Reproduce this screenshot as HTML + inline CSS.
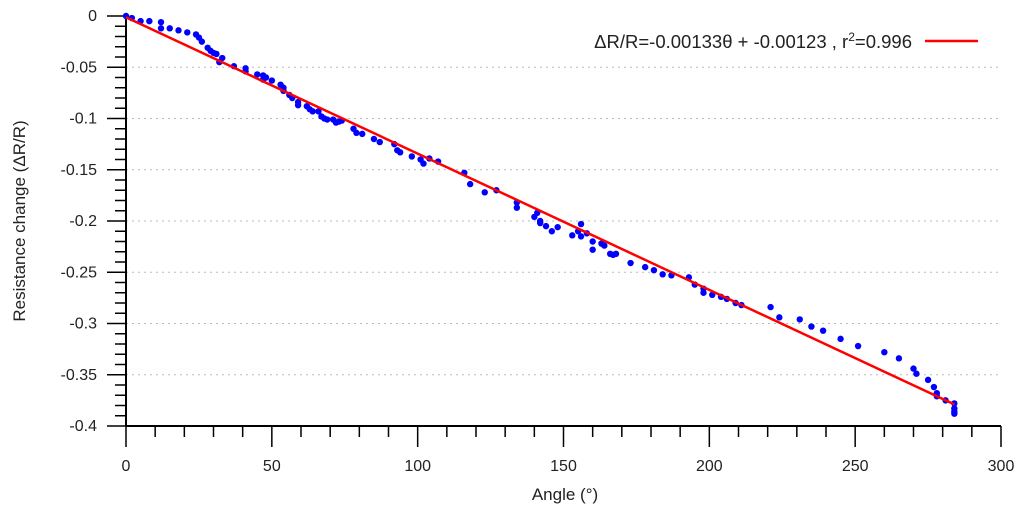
<!DOCTYPE html>
<html><head><meta charset="utf-8"><style>
body{margin:0;background:#fff}
svg{display:block;font-family:"Liberation Sans",sans-serif}
</style></head><body>
<svg id="chart" width="1024" height="512">
<g id="grid"></g>
<g id="axes"></g>
<g id="marks"></g>
<text x="565" y="500" font-size="17" text-anchor="middle" fill="#222">Angle (°)</text>
<text transform="translate(25,221) rotate(-90)" font-size="17" text-anchor="middle" fill="#222">Resistance change (ΔR/R)</text>
<g>
<text x="912" y="48" font-size="18.5" text-anchor="end" fill="#222">ΔR/R=-0.00133θ + -0.00123 , r<tspan dy="-7" font-size="12">2</tspan><tspan dy="7">=0.996</tspan></text>
<line x1="925" y1="41" x2="978" y2="41" stroke="#f00" stroke-width="2.5"/>
</g>
</svg>
<script>
const angles=[0,2,5,8,12,12,15,18,21,24,25,26,28,29,30,31,33,32,37,41,41,45,47,47,48,50,53,54,54,56,57,59,59,62,63,64,66,67,68,69,71,72,73,74,78,79,81,85,87,92,93,94,98,101,102,104,107,116,118,123,127,134,134,140,141,142,142,144,146,148,153,155,156,156,158,160,160,163,164,166,167,168,173,178,181,184,187,193,195,198,198,201,204,206,209,211,221,224,231,235,239,245,251,260,265,270,271,275,277,278,278,281,284,284,284,284];
const changes=[0,-0.002,-0.005,-0.005,-0.006,-0.012,-0.012,-0.014,-0.016,-0.018,-0.021,-0.025,-0.031,-0.034,-0.036,-0.037,-0.041,-0.045,-0.049,-0.051,-0.054,-0.057,-0.058,-0.062,-0.060,-0.063,-0.067,-0.070,-0.073,-0.077,-0.080,-0.084,-0.087,-0.088,-0.091,-0.093,-0.093,-0.098,-0.100,-0.101,-0.101,-0.104,-0.103,-0.102,-0.110,-0.114,-0.115,-0.120,-0.123,-0.125,-0.131,-0.133,-0.137,-0.140,-0.144,-0.139,-0.142,-0.153,-0.164,-0.172,-0.170,-0.182,-0.187,-0.196,-0.192,-0.200,-0.202,-0.205,-0.210,-0.206,-0.214,-0.210,-0.215,-0.203,-0.212,-0.220,-0.228,-0.222,-0.224,-0.232,-0.233,-0.232,-0.241,-0.245,-0.248,-0.252,-0.253,-0.255,-0.262,-0.266,-0.270,-0.272,-0.274,-0.276,-0.280,-0.282,-0.284,-0.294,-0.296,-0.303,-0.307,-0.315,-0.322,-0.328,-0.334,-0.344,-0.349,-0.355,-0.362,-0.368,-0.371,-0.375,-0.378,-0.383,-0.386,-0.388];
const fitSlope=-0.00133, fitIntercept=-0.00123, fitStart=0, fitEnd=284;
const xTicks=[0,50,100,150,200,250,300];
const yTicks=[0,-0.05,-0.1,-0.15,-0.2,-0.25,-0.3,-0.35,-0.4];
const yTickLabels=["0","-0.05","-0.1","-0.15","-0.2","-0.25","-0.3","-0.35","-0.4"];

const NS="http://www.w3.org/2000/svg";
const X0=126,X1=1001,Y0=16,Y1=426;
const sx=v=>X0+(v-0)/300*(X1-X0);
const sy=v=>Y0+(0-v)/0.4*(Y1-Y0);
function mk(tag,attrs,parent){const e=document.createElementNS(NS,tag);for(const k in attrs)e.setAttribute(k,attrs[k]);parent.appendChild(e);return e;}
const grid=document.getElementById('grid'),axes=document.getElementById('axes'),marks=document.getElementById('marks');

yTicks.forEach((v,i)=>{
  if(i>0&&i<yTicks.length-1){const g=mk('line',{x1:X0,x2:X1,y1:sy(v),y2:sy(v),stroke:'#bbb','stroke-dasharray':'2,4'},grid);
  
  }
  const t=mk('text',{x:97,y:sy(v)+5,'font-size':16,'text-anchor':'end',fill:'#222'},axes);
  t.textContent=yTickLabels[i];
  
  
});
for(let k=0;k<=40;k++){const v=-k*0.01;const major=k%5===0;
  mk('line',{x1:major?107:115,x2:X0,y1:sy(v),y2:sy(v),stroke:'#000','stroke-width':1.5},axes);}
for(let k=0;k<=30;k++){const v=k*10;const major=k%5===0;
  mk('line',{x1:sx(v),x2:sx(v),y1:Y1,y2:major?Y1+21:Y1+11,stroke:'#000','stroke-width':1.5},axes);}
xTicks.forEach(v=>{const t=mk('text',{x:sx(v),y:471,'font-size':16,'text-anchor':'middle',fill:'#222'},axes);
  t.textContent=String(v);
  
  });
const ya=mk('line',{x1:X0,x2:X0,y1:Y0,y2:Y1,stroke:'#000','stroke-width':2},axes);


const xa=mk('line',{x1:X0,x2:X1,y1:Y1,y2:Y1,stroke:'#000','stroke-width':2},axes);



angles.forEach((a,i)=>{const c=mk('circle',{cx:sx(a),cy:sy(changes[i]),r:3.2,fill:'#0000ff'},marks);
  
  });
const fl=mk('line',{x1:sx(fitStart),y1:sy(fitSlope*fitStart+fitIntercept),x2:sx(fitEnd),y2:sy(fitSlope*fitEnd+fitIntercept),stroke:'#f00','stroke-width':2.5},marks);


</script>
</body></html>
